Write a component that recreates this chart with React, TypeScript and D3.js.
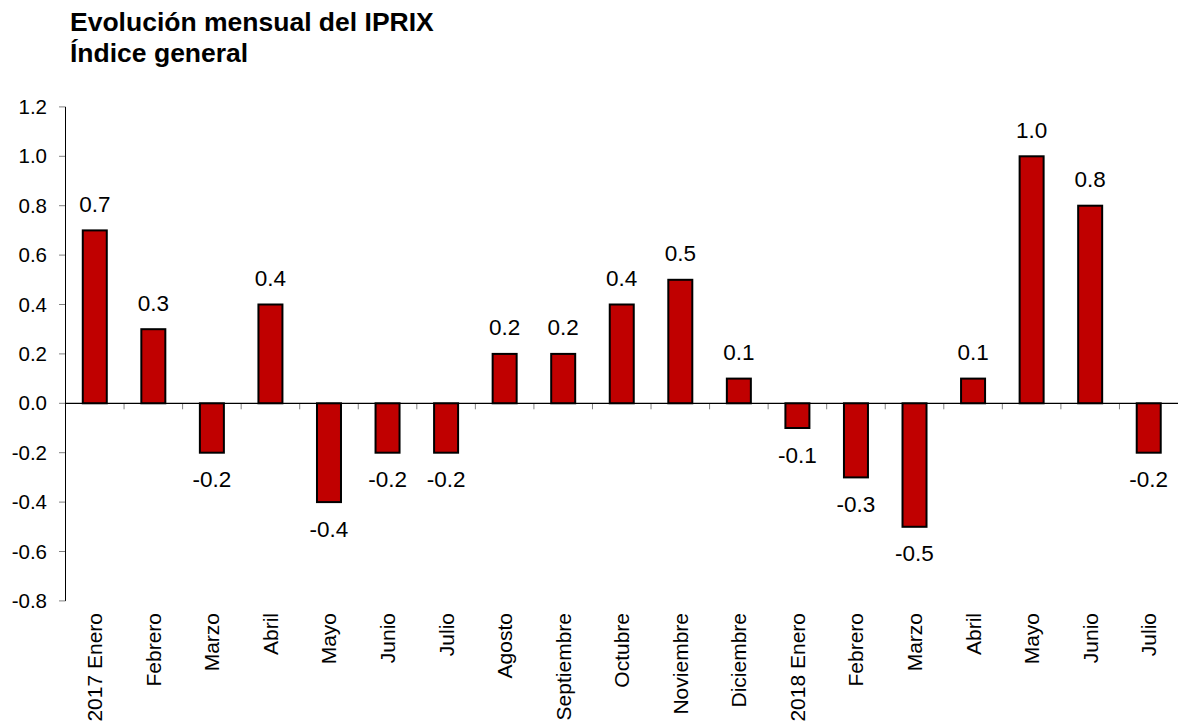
import React from "react";
import * as d3 from "d3";

const categories = ["2017 Enero","Febrero","Marzo","Abril","Mayo","Junio","Julio","Agosto","Septiembre","Octubre","Noviembre","Diciembre","2018 Enero","Febrero","Marzo","Abril","Mayo","Junio","Julio"];
const values = [0.7,0.3,-0.2,0.4,-0.4,-0.2,-0.2,0.2,0.2,0.4,0.5,0.1,-0.1,-0.3,-0.5,0.1,1.0,0.8,-0.2];
const yTicks = [1.2,1.0,0.8,0.6,0.4,0.2,0.0,-0.2,-0.4,-0.6,-0.8];
const titleLines = ["Evolución mensual del IPRIX","Índice general"];

export default function App() {
  const W = 1178, H = 724;
  const x0 = 65.5, x1 = 1178;
  const idx = categories.map((_, i) => String(i));
  const x = d3.scaleBand<string>().domain(idx).range([x0, x1]).paddingInner(0).paddingOuter(0);
  const y = d3.scaleLinear().domain([-0.8, 1.2]).range([600.9, 106.9]);
  const bw = 24;
  const font = "'Liberation Sans', Arial, sans-serif";
  return (
    <svg width={W} height={H} style={{ position: "absolute", left: 0, top: 0, background: "#fff" }} fontFamily={font}>
      {titleLines.map((t, i) => (
        <text key={i} x={70} y={31 + i * 31} fontSize={26.5} fontWeight="bold" fill="#000">{t}</text>
      ))}
      {yTicks.map((t, i) => (
        <g key={i}>
          <line x1={59} x2={x0} y1={y(t)} y2={y(t)} stroke="#808080" strokeWidth={1} />
          <text x={47} y={y(t)} dy="0.35em" textAnchor="end" fontSize={20.5} fill="#000">{t.toFixed(1)}</text>
        </g>
      ))}
      <line x1={x0} x2={x0} y1={y(1.2)} y2={y(-0.8)} stroke="#000" strokeWidth={1} />
      {idx.slice(1).map((d) => (
        <line key={d} x1={x(d)!} x2={x(d)!} y1={y(0)} y2={y(0) + 6} stroke="#808080" strokeWidth={1} />
      ))}
      {values.map((v, i) => {
        const cx = x(String(i))! + x.bandwidth() / 2;
        const top = y(Math.max(0, v));
        const h = Math.abs(y(v) - y(0));
        return (
          <g key={i}>
            <rect x={cx - bw / 2} y={top} width={bw} height={h} fill="#C00000" stroke="#000" strokeWidth={2} />
            <text x={cx} y={v >= 0 ? y(v) - 18.5 : y(v) + 34.5} textAnchor="middle" fontSize={22.5} fill="#000">{v.toFixed(1)}</text>
          </g>
        );
      })}
      <line x1={x0} x2={x1} y1={y(0)} y2={y(0)} stroke="#000" strokeWidth={1.2} />
      {categories.map((c, i) => {
        const cx = x(String(i))! + x.bandwidth() / 2;
        return (
          <text key={i} transform={`translate(${cx + 7.5},613) rotate(-90)`} textAnchor="end" fontSize={21} fill="#000">{c}</text>
        );
      })}
    </svg>
  );
}
